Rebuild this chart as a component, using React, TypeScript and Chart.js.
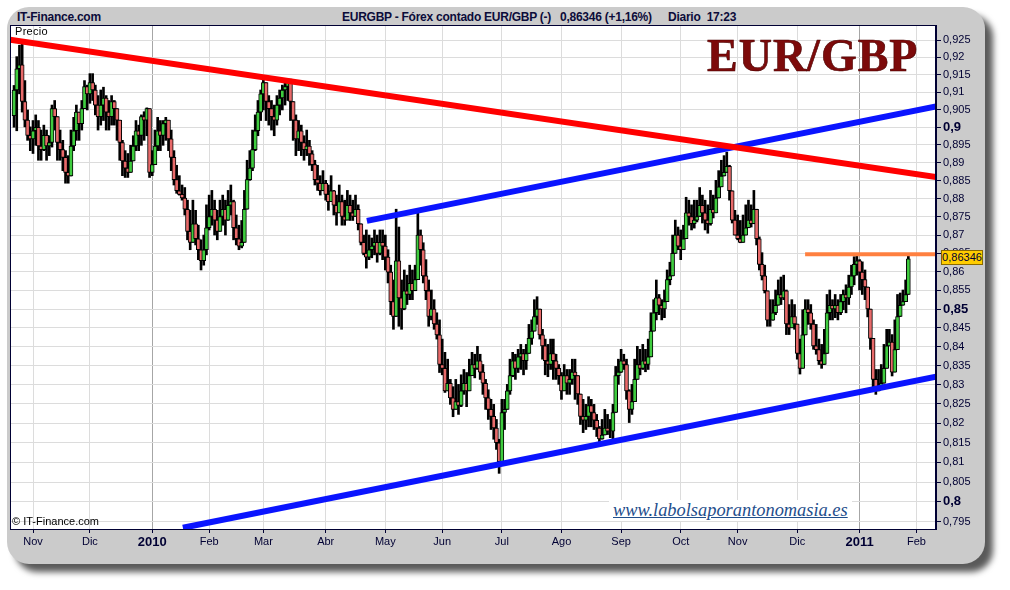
import React, { useEffect, useRef } from "react";
import { Chart, registerables } from "chart.js";

Chart.register(...registerables);

// Trading-day index of the first candle (index 0 = first trading day of Nov 2009)
const FIRST_INDEX = -7;
// prices in units of 0.0001
const FIRST_OPEN = 9033;

const closes = [
  9106, 9167, 9178, 9073, 9020, 8977, 8967, 8990, 9000, 8947,
  8937, 8977, 8947, 8957, 9053, 9030, 8957, 8937, 8915, 8873,
  8863, 8947, 8990, 9043, 9010, 9053, 9116, 9095, 9127, 9106,
  9063, 9030, 9063, 9083, 9043, 9030, 9073, 9053, 9020, 8957,
  8905, 8885, 8873, 8905, 8947, 8990, 8977, 9030, 9020, 9053,
  8873, 8895, 8947, 8990, 8977, 9010, 9020, 8967, 8915, 8853,
  8822, 8812, 8802, 8771, 8710, 8680, 8731, 8690, 8660, 8630,
  8660, 8720, 8751, 8771, 8741, 8710, 8751, 8771, 8741, 8782,
  8792, 8720, 8690, 8670, 8680, 8771, 8853, 8885, 8937, 8990,
  9043, 9095, 9127, 9073, 9053, 9030, 9020, 9063, 9083, 9106,
  9116, 9137, 9073, 9020, 8967, 8990, 8957, 8937, 8947, 8925,
  8895, 8853, 8843, 8822, 8843, 8812, 8792, 8822, 8782, 8761,
  8792, 8751, 8741, 8782, 8761, 8751, 8771, 8731, 8680, 8650,
  8640, 8660, 8670, 8680, 8650, 8680, 8670, 8640, 8599, 8520,
  8480, 8630, 8530, 8500, 8549, 8539, 8569, 8549, 8579, 8700,
  8660, 8589, 8549, 8480, 8500, 8460, 8431, 8353, 8343, 8284,
  8304, 8266, 8236, 8256, 8246, 8284, 8304, 8284, 8324, 8353,
  8343, 8363, 8333, 8304, 8266, 8236, 8218, 8188, 8150, 8102,
  8228, 8236, 8284, 8324, 8363, 8343, 8373, 8382, 8363, 8382,
  8422, 8441, 8480, 8500, 8431, 8402, 8363, 8353, 8382, 8363,
  8343, 8324, 8284, 8324, 8304, 8314, 8333, 8324, 8276, 8218,
  8208, 8218, 8246, 8228, 8208, 8188, 8160, 8170, 8188, 8180,
  8180, 8228, 8324, 8333, 8363, 8353, 8284, 8236, 8256, 8314,
  8353, 8343, 8363, 8353, 8373, 8441, 8490, 8530, 8510, 8500,
  8520, 8579, 8589, 8650, 8700, 8670, 8660, 8690, 8761, 8751,
  8731, 8741, 8751, 8782, 8761, 8741, 8731, 8771, 8761, 8802,
  8833, 8863, 8873, 8890, 8822, 8741, 8700, 8690, 8680, 8700,
  8720, 8741, 8731, 8771, 8690, 8620, 8589, 8549, 8470, 8470,
  8490, 8510, 8539, 8530, 8549, 8460, 8450, 8480, 8460, 8382,
  8343, 8431, 8500, 8490, 8460, 8402, 8392, 8363, 8353, 8382,
  8490, 8510, 8500, 8510, 8490, 8520, 8539, 8530, 8559, 8589,
  8620, 8630, 8599, 8579, 8559, 8500, 8422, 8314, 8284, 8294,
  8304, 8343, 8402, 8412, 8333, 8392, 8480, 8510, 8520, 8539,
  8635,
];

const highs = [
  9119, 9202, 9235, 9241, 9133, 9049, 9001, 9019, 9035, 9019,
  8992, 9006, 8992, 8976, 9063, 9076, 9019, 8992, 8963, 8934,
  8920, 8992, 9028, 9063, 9028, 9076, 9133, 9120, 9153, 9153,
  9120, 9090, 9106, 9114, 9090, 9076, 9090, 9076, 9049, 8992,
  8963, 8934, 8926, 8949, 8976, 9019, 9006, 9035, 9044, 9055,
  8990, 8934, 8992, 9028, 9019, 9019, 9028, 9019, 8992, 8934,
  8893, 8864, 8838, 8831, 8796, 8768, 8796, 8768, 8727, 8687,
  8700, 8783, 8810, 8823, 8796, 8768, 8796, 8810, 8796, 8823,
  8838, 8796, 8755, 8727, 8740, 8823, 8907, 8934, 8992, 9035,
  9076, 9106, 9148, 9120, 9090, 9076, 9063, 9090, 9106, 9120,
  9133, 9139, 9137, 9063, 9035, 9019, 9006, 8976, 8992, 8963,
  8934, 8907, 8893, 8864, 8878, 8851, 8838, 8864, 8823, 8810,
  8838, 8810, 8796, 8823, 8810, 8796, 8810, 8783, 8727, 8700,
  8714, 8700, 8692, 8714, 8700, 8714, 8714, 8700, 8660, 8618,
  8578, 8771, 8722, 8578, 8605, 8591, 8618, 8605, 8618, 8760,
  8714, 8679, 8633, 8578, 8551, 8525, 8490, 8471, 8420, 8385,
  8367, 8314, 8295, 8314, 8301, 8326, 8340, 8332, 8367, 8385,
  8380, 8401, 8380, 8353, 8314, 8287, 8262, 8249, 8210, 8159,
  8262, 8262, 8301, 8367, 8385, 8380, 8393, 8406, 8393, 8406,
  8459, 8471, 8525, 8533, 8498, 8446, 8420, 8406, 8420, 8420,
  8380, 8353, 8332, 8353, 8340, 8340, 8367, 8367, 8314, 8262,
  8262, 8249, 8269, 8262, 8249, 8223, 8192, 8210, 8236, 8223,
  8210, 8249, 8348, 8367, 8393, 8380, 8367, 8287, 8301, 8367,
  8401, 8393, 8406, 8393, 8420, 8490, 8525, 8578, 8539, 8525,
  8551, 8605, 8626, 8700, 8741, 8722, 8714, 8727, 8804, 8796,
  8783, 8796, 8796, 8831, 8810, 8796, 8783, 8823, 8810, 8851,
  8878, 8907, 8920, 8930, 8893, 8810, 8768, 8755, 8740, 8755,
  8783, 8796, 8783, 8823, 8755, 8695, 8652, 8618, 8543, 8525,
  8525, 8551, 8578, 8586, 8591, 8551, 8512, 8525, 8512, 8459,
  8420, 8498, 8525, 8525, 8512, 8471, 8459, 8420, 8406, 8446,
  8539, 8551, 8525, 8539, 8525, 8539, 8551, 8565, 8591, 8618,
  8641, 8644, 8633, 8627, 8605, 8551, 8479, 8393, 8340, 8340,
  8353, 8406, 8446, 8446, 8432, 8471, 8539, 8543, 8551, 8578,
  8642,
];

const lows = [
  9000, 8990, 9095, 9043, 9001, 8963, 8934, 8926, 8949, 8907,
  8907, 8934, 8907, 8920, 8944, 8992, 8907, 8907, 8878, 8843,
  8843, 8907, 8934, 8963, 8963, 8992, 9057, 9049, 9068, 9076,
  9035, 8992, 9006, 9019, 8992, 8992, 9006, 9006, 8963, 8907,
  8864, 8859, 8859, 8878, 8907, 8934, 8934, 8949, 8963, 8976,
  8859, 8864, 8920, 8934, 8934, 8949, 8963, 8934, 8878, 8838,
  8815, 8810, 8796, 8755, 8687, 8660, 8700, 8673, 8633, 8605,
  8618, 8646, 8714, 8727, 8700, 8687, 8714, 8727, 8700, 8740,
  8755, 8687, 8673, 8660, 8665, 8714, 8796, 8851, 8878, 8934,
  8976, 9019, 9049, 9019, 9006, 8992, 8976, 9006, 9035, 9049,
  9063, 9076, 9019, 8963, 8920, 8934, 8920, 8907, 8920, 8893,
  8878, 8838, 8823, 8810, 8823, 8796, 8768, 8796, 8755, 8727,
  8768, 8727, 8727, 8755, 8740, 8740, 8755, 8714, 8673, 8646,
  8610, 8633, 8638, 8646, 8626, 8646, 8633, 8605, 8570, 8485,
  8446, 8480, 8454, 8446, 8498, 8512, 8525, 8525, 8551, 8579,
  8618, 8570, 8525, 8454, 8471, 8446, 8420, 8332, 8326, 8280,
  8301, 8249, 8217, 8236, 8223, 8243, 8275, 8243, 8301, 8332,
  8318, 8340, 8314, 8275, 8236, 8210, 8184, 8159, 8133, 8072,
  8093, 8184, 8256, 8275, 8321, 8314, 8332, 8340, 8326, 8340,
  8393, 8406, 8446, 8459, 8420, 8367, 8326, 8321, 8340, 8314,
  8314, 8301, 8262, 8301, 8275, 8275, 8301, 8262, 8249, 8197,
  8176, 8184, 8191, 8191, 8184, 8166, 8140, 8159, 8171, 8171,
  8163, 8159, 8262, 8301, 8332, 8340, 8262, 8202, 8223, 8301,
  8332, 8326, 8340, 8334, 8340, 8412, 8459, 8471, 8485, 8471,
  8477, 8551, 8565, 8633, 8652, 8660, 8633, 8673, 8714, 8727,
  8714, 8719, 8736, 8755, 8733, 8714, 8705, 8727, 8747, 8768,
  8810, 8851, 8864, 8878, 8796, 8733, 8700, 8687, 8679, 8700,
  8714, 8727, 8722, 8755, 8673, 8605, 8578, 8543, 8454, 8454,
  8471, 8485, 8512, 8512, 8525, 8432, 8432, 8459, 8446, 8367,
  8328, 8412, 8471, 8459, 8446, 8393, 8380, 8353, 8343, 8367,
  8459, 8471, 8471, 8477, 8471, 8485, 8498, 8490, 8512, 8539,
  8565, 8591, 8551, 8539, 8525, 8479, 8393, 8295, 8275, 8284,
  8301, 8334, 8393, 8406, 8323, 8380, 8471, 8498, 8510, 8530,
  8539,
];

const monthTickIndex = [0, 21, 44, 65, 85, 108, 130, 151, 173, 195, 217, 239, 260, 282, 305, 326];
const monthTickLabels = ["Nov", "Dic", "2010", "Feb", "Mar", "Abr", "May", "Jun", "Jul", "Ago", "Sep", "Oct", "Nov", "Dic", "2011", "Feb"];
const yearLabels = ["2010", "2011"];

const yTickValues = [
  0.795, 0.8, 0.805, 0.81, 0.815, 0.82, 0.825, 0.83, 0.835, 0.84, 0.845, 0.85, 0.855, 0.86,
  0.865, 0.87, 0.875, 0.88, 0.885, 0.89, 0.895, 0.9, 0.905, 0.91, 0.915, 0.92, 0.925,
];
const yBoldValues = [0.8, 0.85, 0.9];

// trend lines: [trading-day index, price]
const resistanceLine = [{ x: -8.5, y: 0.9251 }, { x: 333.2, y: 0.886 }];
const upperChannelLine = [{ x: 123.2, y: 0.8739 }, { x: 333.2, y: 0.9059 }];
const lowerChannelLine = [{ x: 55.3, y: 0.7935 }, { x: 333.2, y: 0.8321 }];
const lastHighLine = [{ x: 284.9, y: 0.8648 }, { x: 333.2, y: 0.8648 }];

const X_MIN = -8.49;
const X_MAX = 333.2;
const Y_MIN = 0.7932;
const Y_MAX = 0.9294;

const NAVY = "#000033";
const FONT = '"Liberation Sans", Arial, sans-serif';

const frameFill = {
  id: "frameFill",
  beforeDraw(chart: any) {
    const { ctx, chartArea: a } = chart;
    ctx.save();
    ctx.fillStyle = "#ffffff";
    ctx.fillRect(a.left, a.top, a.right - a.left, a.bottom - a.top);
    ctx.restore();
  },
  afterDraw(chart: any) {
    const { ctx, chartArea: a } = chart;
    ctx.save();
    ctx.strokeStyle = NAVY;
    ctx.lineWidth = 1;
    ctx.strokeRect(a.left + 0.5, a.top + 0.5, a.right - a.left - 1, a.bottom - a.top);
    ctx.restore();
  },
};

function fmtY(v: number) {
  return (Math.round(v * 1000) / 1000).toString().replace(".", ",");
}

export default function App() {
  const ref = useRef<HTMLCanvasElement>(null);

  useEffect(() => {
    const canvas = ref.current;
    if (!canvas) return;
    Chart.defaults.font.family = FONT;

    const wicks: any[] = [];
    const bodies: any[] = [];
    const bodyColors: string[] = [];
    for (let i = 0; i < closes.length; i++) {
      const x = FIRST_INDEX + i;
      const o = i === 0 ? FIRST_OPEN : closes[i - 1];
      const c = closes[i];
      const h = Math.max(highs[i], o, c);
      const l = Math.min(lows[i], o, c);
      wicks.push({ x, y: [l / 10000, h / 10000] });
      bodies.push({ x, y: [Math.min(o, c) / 10000, Math.max(o, c) / 10000] });
      bodyColors.push(c >= o ? "#3fcc3f" : "#e86a6a");
    }

    const lineDs = (data: any[], color: string, width: number) => ({
      type: "line" as const,
      data,
      borderColor: color,
      backgroundColor: color,
      borderWidth: width,
      pointRadius: 0,
      borderCapStyle: "butt" as const,
      tension: 0,
      fill: false,
      order: 0,
      clip: 0,
    });

    const chart = new Chart(canvas, {
      type: "bar",
      data: {
        datasets: [
          lineDs(resistanceLine, "#ff0000", 6) as any,
          lineDs(upperChannelLine, "#0a14ff", 6) as any,
          lineDs(lowerChannelLine, "#0a14ff", 6) as any,
          lineDs(lastHighLine, "#ff8040", 4) as any,
          {
            type: "bar",
            data: bodies,
            backgroundColor: bodyColors,
            borderColor: "#000000",
            borderWidth: 1,
            borderSkipped: false,
            barThickness: 4,
            grouped: false,
            order: 1,
            clip: 0,
          } as any,
          {
            type: "bar",
            data: wicks,
            backgroundColor: "#000000",
            borderWidth: 0,
            barThickness: 2,
            grouped: false,
            order: 2,
            clip: 0,
          } as any,
        ],
      },
      options: {
        animation: false,
        responsive: false,
        maintainAspectRatio: false,
        events: [],
        layout: { padding: { left: 10, top: 25, right: 0, bottom: 0 } },
        plugins: { legend: { display: false }, tooltip: { enabled: false } },
        scales: {
          x: {
            type: "linear",
            min: X_MIN,
            max: X_MAX,
            offset: false,
            bounds: "data",
            afterBuildTicks: (s: any) => {
              s.ticks = monthTickIndex.map((v) => ({ value: v }));
              s.min = X_MIN;
              s.max = X_MAX;
            },
            afterFit: (s: any) => {
              s.height = 61;
            },
            ticks: {
              autoSkip: false,
              maxRotation: 0,
              minRotation: 0,
              padding: 2,
              color: NAVY,
              font: (ctx: any) => {
                const idx = ctx.tick ? monthTickIndex.indexOf(ctx.tick.value) : -1;
                const isYear = idx >= 0 && yearLabels.includes(monthTickLabels[idx]);
                return isYear ? { size: 13, weight: "bold", family: FONT } : { size: 11, family: FONT };
              },
              callback: (v: any) => {
                const idx = monthTickIndex.indexOf(Number(v));
                return idx >= 0 ? monthTickLabels[idx] : "";
              },
            },
            grid: {
              offset: false,
              color: (ctx: any) => {
                const idx = ctx.tick ? monthTickIndex.indexOf(ctx.tick.value) : -1;
                return idx >= 0 && yearLabels.includes(monthTickLabels[idx]) ? "#a6a6a6" : "#dcdcdc";
              },
              tickColor: NAVY,
              tickLength: 4,
            },
            border: { display: true, color: NAVY, width: 1 },
          },
          y: {
            type: "logarithmic",
            position: "right",
            min: Y_MIN,
            max: Y_MAX,
            bounds: "data",
            afterBuildTicks: (s: any) => {
              s.ticks = yTickValues.map((v) => ({ value: v }));
              s.min = Y_MIN;
              s.max = Y_MAX;
            },
            afterFit: (s: any) => {
              s.width = 74;
            },
            ticks: {
              autoSkip: false,
              padding: 2,
              color: NAVY,
              font: (ctx: any) => {
                const v = ctx.tick ? ctx.tick.value : 0;
                const bold = yBoldValues.some((b) => Math.abs(b - v) < 1e-9);
                return bold ? { size: 13, weight: "bold", family: FONT } : { size: 11, family: FONT };
              },
              callback: (v: any) => fmtY(Number(v)),
            },
            grid: {
              color: "#dcdcdc",
              tickColor: NAVY,
              tickLength: 5,
            },
            border: { display: true, color: NAVY, width: 1 },
          },
        },
      } as any,
      plugins: [frameFill],
    });

    return () => chart.destroy();
  }, []);

  const headerStyle: React.CSSProperties = {
    position: "absolute",
    top: 9,
    lineHeight: "16px",
    fontSize: 12,
    fontWeight: "bold",
    color: "#0c0c3a",
    whiteSpace: "pre",
    letterSpacing: -0.25,
  };

  return (
    <div
      style={{
        position: "absolute",
        left: 0,
        top: 0,
        width: 1010,
        height: 590,
        overflow: "hidden",
        background: "#ffffff",
        fontFamily: FONT,
      }}
    >
      <div
        style={{
          position: "absolute",
          left: 7,
          top: 7,
          width: 978,
          height: 557,
          background: "#cbcbcb",
          borderRadius: 22,
          boxShadow: "8px 8px 6px rgba(0,0,0,0.65)",
        }}
      />
      <div style={{ ...headerStyle, left: 17 }}>IT-Finance.com</div>
      <div style={{ ...headerStyle, left: 342 }}>EURGBP - Fórex contado EUR/GBP (-)</div>
      <div style={{ ...headerStyle, left: 560 }}>0,86346 (+1,16%)</div>
      <div style={{ ...headerStyle, left: 668 }}>Diario  17:23</div>
      <canvas
        ref={ref}
        width={1010}
        height={590}
        style={{ position: "absolute", left: 0, top: 0, width: 1010, height: 590 }}
      />
      <div style={{ position: "absolute", left: 15, top: 25, fontSize: 11, lineHeight: "13px", color: "#000", letterSpacing: 0.3 }}>
        Precio
      </div>
      <div style={{ position: "absolute", left: 12, top: 515, fontSize: 11, lineHeight: "13px", color: "#000" }}>
        © IT-Finance.com
      </div>
      <div
        style={{
          position: "absolute",
          left: 707,
          top: 33,
          fontFamily: '"Liberation Serif", "DejaVu Serif", serif',
          fontWeight: "bold",
          fontSize: 46,
          lineHeight: "46px",
          letterSpacing: 1,
          color: "#7d0a0a",
          WebkitTextStroke: "0.6px #4a0000",
          whiteSpace: "pre",
        }}
      >
        EUR/GBP
      </div>
      <div
        style={{
          position: "absolute",
          left: 609,
          top: 500,
          padding: "0 4px",
          background: "#ffffff",
          fontFamily: '"Liberation Serif", "DejaVu Serif", serif',
          fontStyle: "italic",
          fontSize: 18.4,
          lineHeight: "21px",
          color: "#1f4e8c",
          textDecoration: "underline",
          whiteSpace: "pre",
        }}
      >
        www.labolsaporantonomasia.es
      </div>
      <div
        style={{
          position: "absolute",
          left: 941,
          top: 250,
          width: 40,
          height: 13,
          background: "#ffcc00",
          border: "1px solid #8a6a00",
          fontSize: 11,
          lineHeight: "13px",
          color: NAVY,
          textAlign: "center",
        }}
      >
        0,86346
      </div>
    </div>
  );
}
